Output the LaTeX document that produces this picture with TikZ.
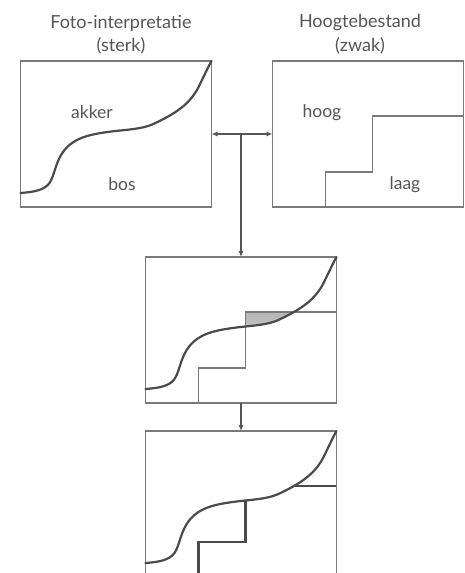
\documentclass[tikz,border=0pt]{standalone}
\usepackage{fontspec}
\setmainfont{Lato}
\usetikzlibrary{arrows.meta}
\definecolor{frame}{HTML}{7A7A7A}
\definecolor{curvecol}{HTML}{4A4A4A}
\definecolor{ink}{HTML}{555555}
\definecolor{shade}{HTML}{D6DADA}
\tikzset{
  panel/.style={draw=frame, line width=1.3pt, minimum width=191pt, minimum height=146pt,
    anchor=north west, inner sep=0pt, outer sep=0pt},
  boundary/.style={draw=curvecol, line width=2.2pt, line cap=round},
  stair/.style={draw=frame, line width=1.3pt},
  link/.style={draw=ink, line width=1.1pt, -{Latex[length=6pt,width=5pt]}},
  label/.style={text=ink, font=\fontsize{17.5}{20}\selectfont, inner sep=0pt},
  heading/.style={text=ink, font=\fontsize{18}{21}\selectfont, inner sep=0pt},
}
% S-shaped parcel boundary and stepped height contour, in panel coordinates
\newcommand\sigcurve{(0,132) .. controls (14,131) and (24,129) .. (29,122)
  .. controls (34,115) and (35,100) .. (44,89)
  .. controls (55,76) and (70,73) .. (95,70)
  .. controls (115,68) and (125,67) .. (135,62)
  .. controls (160,50) and (172,40) .. (180,22)
  .. controls (185,12) and (188,5) .. (191,0)}
\newcommand\stairpath{(191,55) -- (100,55) -- (100,111) -- (53,111) -- (53,146)}

\begin{document}
\begin{tikzpicture}[x=1pt,y=-1pt]
\useasboundingbox (0,0) rectangle (464,573);
\clip (0,0) rectangle (464,573);

% panels
\node[panel] (foto) at (20.5,61) {};
\node[panel] (hoogte) at (272.5,61) {};
\node[panel] (combi) at (145.5,257) {};
\node[panel] (result) at (145.5,431) {};

% headings
\node[heading] (h1) at (121,23) {Foto-interpretatie};
\node[heading] (h1b) at (121,46) {(sterk)};
\node[heading] (h2) at (360,23) {Hoogtebestand};
\node[heading] (h2b) at (360,46) {(zwak)};

% photo interpretation panel
\begin{scope}[shift={(foto.north west)}]
  \draw[boundary] \sigcurve;
\end{scope}
\node[label] (akker) at (92,112) {akker};
\node[label] (bos) at (122,184) {bos};

% height panel
\begin{scope}[shift={(hoogte.north west)}]
  \draw[stair] \stairpath;
\end{scope}
\node[label] (hoog) at (322,113) {hoog};
\node[label] (laag) at (405,185) {laag};

% overlay panel with the disputed area shaded
\begin{scope}[shift={(combi.north west)}]
  \begin{scope}
    \clip (100,55) rectangle (191,146);
    \fill[shade] \sigcurve -- (0,0) -- cycle;
  \end{scope}
  \draw[stair] \stairpath;
  \draw[boundary] \sigcurve;
\end{scope}

% corrected boundary
\begin{scope}[shift={(result.north west)}]
  \begin{scope}
    \clip \sigcurve -- (191,146) -- (0,146) -- cycle;
    \draw[boundary, line cap=butt] \stairpath;
  \end{scope}
  \draw[boundary] \sigcurve;
\end{scope}

% connectors
\coordinate (split) at (combi.north |- foto.east);
\draw[link] (split) -- (foto.east);
\draw[link] (split) -- (hoogte.west);
\draw[link] (split) -- (combi.north);
\draw[link] (combi.south) -- (result.north);
\end{tikzpicture}
\end{document}
